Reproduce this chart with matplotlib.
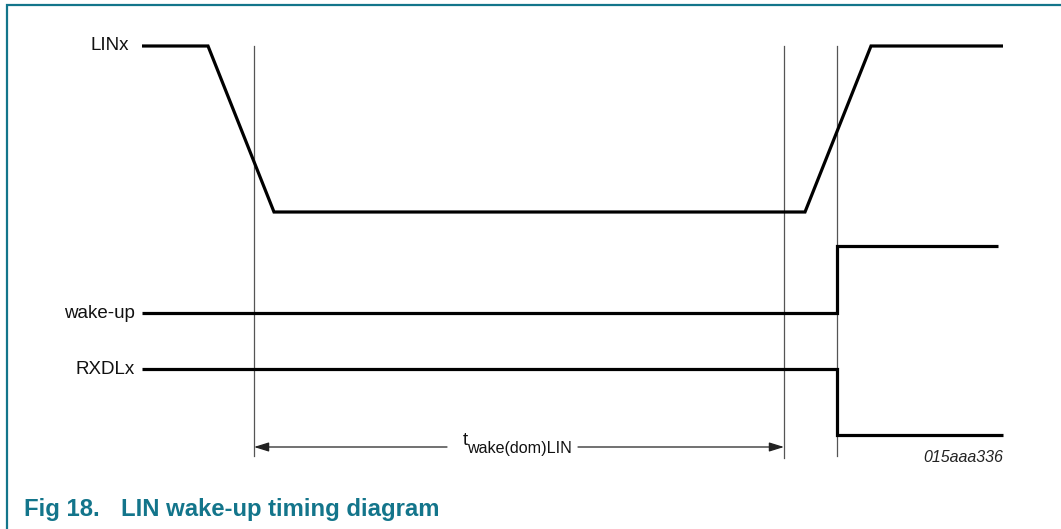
import matplotlib
matplotlib.use("Agg")
import matplotlib.pyplot as plt
from matplotlib.lines import Line2D

plt.rcParams['font.family'] = ['Liberation Sans', 'DejaVu Sans']

# ---- data (diagram coordinates: x = time axis, y = drawing row) ----
signal_names = ["LINx", "wake-up", "RXDLx"]
linx_t = [142, 208, 274, 805, 871, 1003]
linx_v = [46, 46, 212, 212, 46, 46]
wake_t = [142, 837, 837, 998]
wake_v = [313, 313, 246, 246]
rxd_t = [142, 837, 837, 1003]
rxd_v = [369, 369, 435, 435]
label_x = [129, 135, 135]
label_y = [46, 313, 369]
markers_t = [254, 784, 837]
marker_top = 46
marker_bottom = [456, 458, 456]
dim_y = 447
dim_gap = [447, 578]
fig_id = "015aaa336"
caption_num = "Fig 18."
caption_text = "LIN wake-up timing diagram"

teal = '#13758b'

fig = plt.figure(figsize=(10.61, 5.29), dpi=100)
ax = fig.add_axes([0, 0, 1, 1])
ax.set_xlim(0, 1061)
ax.set_ylim(529, 0)
ax.axis('off')

# frame
ax.add_line(Line2D([7, 7, 1061], [529, 4.5, 4.5], color=teal, lw=1.6,
                   solid_joinstyle='miter'))

# marker lines
for t, yb in zip(markers_t, marker_bottom):
    ax.plot([t, t], [marker_top, yb], color='#555555', lw=0.9)

# signals
sig_kw = dict(color='black', lw=2.3, solid_joinstyle='miter', solid_capstyle='butt')
ax.plot(linx_t, linx_v, **sig_kw)
ax.plot(wake_t, wake_v, **sig_kw)
ax.plot(rxd_t, rxd_v, **sig_kw)

# labels
for name, x, y in zip(signal_names, label_x, label_y):
    ax.text(x, y, name, ha='right', va='center', fontsize=13.5, color='#111111')

# dimension arrows
ap = dict(arrowstyle='-|>,head_length=0.9,head_width=0.28', color='#222222',
          lw=0.9, shrinkA=0, shrinkB=0)
ax.annotate('', xy=(markers_t[0], dim_y), xytext=(dim_gap[0], dim_y), arrowprops=ap)
ax.annotate('', xy=(markers_t[1], dim_y), xytext=(dim_gap[1], dim_y), arrowprops=ap)
ax.text(463, 445, 't', ha='left', va='baseline', fontsize=13.5, color='#111111')
ax.text(467, 453, 'wake(dom)LIN', ha='left', va='baseline', fontsize=11.6,
        color='#111111')

# figure id
ax.text(1003, 462, fig_id, ha='right', va='baseline', fontsize=11.5,
        style='italic', color='#222222')

# caption
ax.text(24, 516, caption_num, ha='left', va='baseline', fontsize=17.2,
        fontweight='bold', color=teal)
ax.text(121, 516, caption_text, ha='left', va='baseline', fontsize=17.2,
        fontweight='bold', color=teal)

fig.savefig('out.png', dpi=100)
